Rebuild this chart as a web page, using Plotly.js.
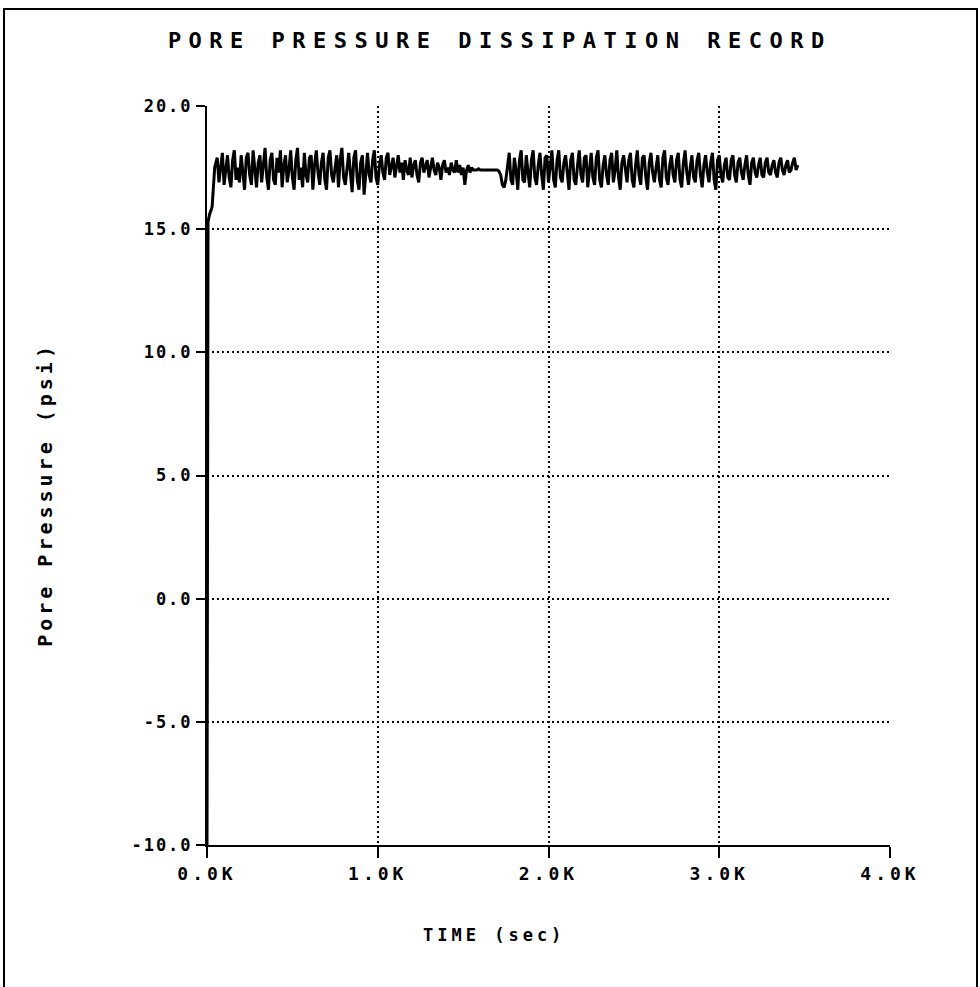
<!DOCTYPE html>
<html>
<head>
<meta charset="utf-8">
<script src="https://cdn.plot.ly/plotly-3.0.1.min.js"></script>
<style>
  html, body { margin: 0; padding: 0; background: #fff; }
  #wrap { position: relative; width: 980px; height: 987px; overflow: hidden; }
  #chart { width: 980px; height: 987px; }
  #frame { position: absolute; left: 3px; top: 8px; width: 975px; height: 1000px;
           border: 2px solid #000; box-sizing: border-box; pointer-events: none; }
  #chart .gtitle { letter-spacing: 7.5px; }
  #chart .xtick text { letter-spacing: 4px; }
  #chart .ytick text { letter-spacing: 2px; }
  #chart .annotation-text { letter-spacing: 4px; }
  #chart .annotation:nth-of-type(2) .annotation-text { letter-spacing: 7px; }
</style>
</head>
<body>
<div id="wrap">
  <div id="chart"></div>
  <div id="frame"></div>
</div>
<script>
// Time (sec)
const timeSec = [
  0, 6, 15, 30, 45,
  60, 70, 80, 90, 100, 110, 120, 130, 140, 150, 160, 170, 180, 190, 200, 210, 220, 230, 240, 250,
  260, 270, 280, 290, 300, 310, 320, 330, 340, 350, 360, 370, 380, 390, 400, 410, 420, 430, 440, 450,
  460, 470, 480, 490, 500, 510, 520, 530, 540, 550, 560, 570, 580, 590, 600, 610, 620, 630, 640, 650,
  660, 670, 680, 690, 700, 710, 720, 730, 740, 750, 760, 770, 780, 790, 800, 810, 820, 830, 840, 850,
  860, 870, 880, 890, 900, 910, 920, 930, 940, 950, 960, 970, 980, 990, 1000, 1010, 1020, 1030, 1040, 1050,
  1060, 1070, 1080, 1090, 1100, 1110, 1120, 1130, 1140, 1150, 1160, 1170, 1180, 1190, 1200, 1210, 1220, 1230, 1240, 1250,
  1260, 1270, 1280, 1290, 1300, 1310, 1320, 1330, 1340, 1350, 1360, 1370, 1380, 1390, 1400, 1410, 1420, 1430, 1440, 1450,
  1460, 1470, 1480, 1490, 1500, 1510, 1520, 1530, 1540, 1550, 1560, 1570, 1580, 1590, 1600, 1610, 1620, 1630, 1640, 1650,
  1660, 1670, 1680, 1690, 1700, 1710, 1720, 1730, 1740, 1750, 1760, 1770, 1780, 1790, 1800, 1810, 1820, 1830, 1840, 1850,
  1860, 1870, 1880, 1890, 1900, 1910, 1920, 1930, 1940, 1950, 1960, 1970, 1980, 1990, 2000, 2010, 2020, 2030, 2040, 2050,
  2060, 2070, 2080, 2090, 2100, 2110, 2120, 2130, 2140, 2150, 2160, 2170, 2180, 2190, 2200, 2210, 2220, 2230, 2240, 2250,
  2260, 2270, 2280, 2290, 2300, 2310, 2320, 2330, 2340, 2350, 2360, 2370, 2380, 2390, 2400, 2410, 2420, 2430, 2440, 2450,
  2460, 2470, 2480, 2490, 2500, 2510, 2520, 2530, 2540, 2550, 2560, 2570, 2580, 2590, 2600, 2610, 2620, 2630, 2640, 2650,
  2660, 2670, 2680, 2690, 2700, 2710, 2720, 2730, 2740, 2750, 2760, 2770, 2780, 2790, 2800, 2810, 2820, 2830, 2840, 2850,
  2860, 2870, 2880, 2890, 2900, 2910, 2920, 2930, 2940, 2950, 2960, 2970, 2980, 2990, 3000, 3010, 3020, 3030, 3040, 3050,
  3060, 3070, 3080, 3090, 3100, 3110, 3120, 3130, 3140, 3150, 3160, 3170, 3180, 3190, 3200, 3210, 3220, 3230, 3240, 3250,
  3260, 3270, 3280, 3290, 3300, 3310, 3320, 3330, 3340, 3350, 3360, 3370, 3380, 3390, 3400, 3410, 3420, 3430, 3440, 3450,
  3460
];
// Pore pressure (psi)
const porePressure = [
  -10.0, 15.3, 15.6, 15.9, 17.5,
  17.9, 16.9, 17.6, 18.1, 16.8, 17.4, 18.0, 17.1, 16.7, 17.8, 18.2, 17.0, 17.5, 16.9, 18.0, 17.3, 16.6, 17.9, 18.1, 17.2,
  16.8, 18.2, 17.4, 16.7, 17.7, 18.0, 16.9, 17.5, 18.3, 17.1, 16.6, 17.8, 18.1, 17.0, 16.8, 17.9, 17.3, 18.2, 16.7, 17.6,
  18.0, 16.9, 17.4, 18.2, 17.1, 16.6, 17.8, 18.3, 17.0, 17.5, 16.7, 18.1, 17.2, 16.9, 17.9, 18.0, 16.6, 17.6, 18.2, 17.3,
  16.8, 17.7, 18.1, 17.0, 16.6, 17.9, 18.2, 17.2, 16.9, 17.5, 18.0, 16.7, 17.8, 18.3, 17.1, 16.8, 17.6, 18.1, 17.3, 16.5,
  17.9, 18.2, 17.0, 16.6, 17.7, 18.0, 16.4, 17.4, 18.1, 17.2, 16.9, 17.8, 18.2, 17.1, 16.8, 17.6, 18.0, 17.3, 17.0, 17.9,
  18.1, 17.2, 17.6, 17.9, 17.1, 17.5, 18.0, 17.3, 17.7, 17.0, 17.8, 17.4, 17.2, 17.9, 17.1, 17.6, 17.8, 17.2, 16.9, 17.7,
  17.9, 17.3, 17.6, 17.8, 17.1, 17.5, 17.9, 17.4, 17.2, 17.7, 17.5, 17.0, 17.6, 17.8, 17.3, 17.5, 17.2, 17.7, 17.4, 17.3,
  17.8, 17.3, 17.6, 17.2, 17.5, 16.8, 17.4, 17.6, 17.3, 17.5, 17.4, 17.4, 17.4, 17.45, 17.4, 17.4, 17.4, 17.4, 17.4, 17.4,
  17.4, 17.4, 17.4, 17.4, 17.4, 17.35, 17.2, 16.8, 16.7, 17.0, 17.6, 18.1, 17.0, 16.8, 17.9, 17.4, 16.6, 17.8, 18.2, 17.0,
  16.9, 18.0, 17.3, 16.7, 17.8, 18.2, 17.1, 16.8, 17.6, 18.1, 17.2, 16.6, 17.9, 18.0, 16.9, 17.5, 18.2, 17.0, 16.7, 17.8,
  18.2, 17.1, 16.9, 17.7, 18.0, 17.3, 16.6, 17.8, 18.1, 17.0, 16.8, 17.6, 18.2, 17.2, 16.9, 17.9, 18.0, 16.7, 17.4, 18.1,
  17.1, 16.8, 17.9, 18.2, 17.0, 16.7, 17.6, 18.0, 17.2, 16.8, 17.8, 18.1, 16.9, 17.4, 18.2, 17.1, 16.6, 17.7, 18.0, 17.3,
  16.9, 17.8, 18.1, 17.0, 16.7, 17.6, 18.2, 17.2, 16.8, 17.9, 18.0, 17.1, 16.6, 17.7, 18.1, 17.3, 16.9, 17.5, 18.0, 17.0,
  16.7, 17.9, 18.2, 17.1, 16.8, 17.6, 18.0, 17.2, 16.9, 17.8, 18.1, 17.0, 16.7, 17.7, 18.2, 17.3, 16.8, 17.5, 18.0, 17.1,
  16.9, 17.8, 18.1, 17.2, 16.7, 17.6, 18.0, 17.3, 16.9, 17.7, 18.1, 17.0, 16.6, 17.8, 18.0, 17.2, 16.9, 17.6, 17.9, 17.1,
  17.0, 17.8, 18.0, 17.2, 16.9, 17.7, 17.9, 17.3, 17.0, 17.6, 18.0, 17.2, 16.8, 17.7, 17.9, 17.3, 17.1, 17.6, 17.9, 17.2,
  17.1, 17.7, 17.9, 17.3, 17.2, 17.6, 17.8, 17.3, 17.1, 17.7, 17.9, 17.4, 17.2, 17.6, 17.8, 17.3, 17.4, 17.7, 17.9, 17.4,
  17.6
];
// Axis ticks
const xTickVals = [0, 1000, 2000, 3000, 4000];
const xTickText = ["0.0K", "1.0K", "2.0K", "3.0K", "4.0K"];
const yTickVals = [-10, -5, 0, 5, 10, 15, 20];
const yTickText = ["-10.0", "-5.0", "0.0", "5.0", "10.0", "15.0", "20.0"];

const chartTitle = "PORE PRESSURE DISSIPATION RECORD";
const xTitle = "TIME (sec)";
const yTitle = "Pore Pressure (psi)";

const FONT = "DejaVu Sans Mono, Liberation Mono, monospace";

const trace = {
  x: timeSec,
  y: porePressure,
  type: "scatter",
  mode: "lines",
  line: { color: "#000", width: 3 },
  hoverinfo: "skip"
};

const gridStyle = {
  showgrid: true,
  gridcolor: "#000",
  griddash: "2px,3px",
  gridwidth: 2
};

const layout = {
  width: 980,
  height: 987,
  paper_bgcolor: "#fff",
  plot_bgcolor: "#fff",
  showlegend: false,
  margin: { l: 207, r: 90, t: 106, b: 142 },
  font: { family: FONT, color: "#000" },
  title: {
    text: "<b>" + chartTitle + "</b>",
    font: { family: FONT, size: 22, color: "#000" },
    xref: "container", x: 0.51, xanchor: "center",
    yref: "container", y: 0.959, yanchor: "middle"
  },
  xaxis: Object.assign({
    range: [0, 4000],
    tickvals: xTickVals,
    ticktext: xTickText,
    ticks: "outside",
    ticklen: 11,
    tickwidth: 2,
    tickcolor: "#000",
    tickfont: { family: FONT, size: 18, color: "#000", weight: "bold" },
    showline: true,
    linecolor: "#000",
    linewidth: 2,
    zeroline: false,
    fixedrange: true
  }, gridStyle),
  yaxis: Object.assign({
    range: [-10, 20],
    tickvals: yTickVals,
    ticktext: yTickText,
    ticks: "outside",
    ticklen: 9,
    tickwidth: 2,
    tickcolor: "#000",
    tickfont: { family: FONT, size: 17, color: "#000", weight: "bold" },
    showline: true,
    linecolor: "#000",
    linewidth: 2,
    zeroline: false,
    fixedrange: true
  }, gridStyle),
  annotations: [
    {
      text: "<b>" + xTitle + "</b>",
      xref: "paper", yref: "paper",
      x: 0.42, y: -0.122,
      xanchor: "center", yanchor: "middle",
      showarrow: false,
      font: { family: FONT, size: 17, color: "#000" }
    },
    {
      text: "<b>" + yTitle + "</b>",
      xref: "paper", yref: "paper",
      x: -0.237, y: 0.474,
      xanchor: "center", yanchor: "middle",
      textangle: -90,
      showarrow: false,
      font: { family: FONT, size: 20, color: "#000" }
    }
  ]
};

Plotly.newPlot("chart", [trace], layout, { displayModeBar: false, staticPlot: true });
</script>
</body>
</html>
